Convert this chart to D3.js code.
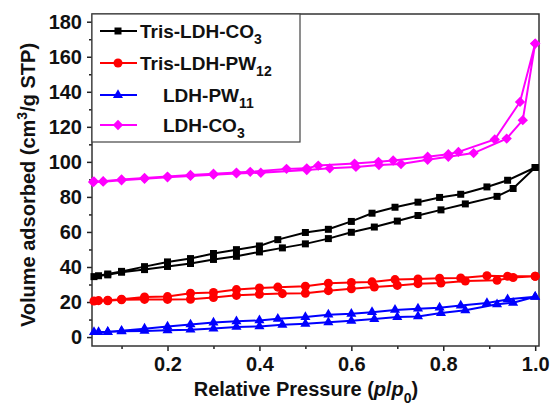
<!DOCTYPE html>
<html>
<head>
<meta charset="utf-8">
<script src="https://cdn.jsdelivr.net/npm/d3@7"></script>
<style>
  body { margin: 0; background: #fff; }
  svg { display: block; font-family: "Liberation Sans", Arial, sans-serif; font-weight: bold; }
</style>
</head>
<body>
<div id="chart"></div>
<script>
// Tris-LDH-CO3, Tris-LDH-PW12, LDH-PW11 share the same pressure steps
const pAds = [0.04, 0.07, 0.10, 0.15, 0.20, 0.25, 0.30, 0.35, 0.40, 0.45, 0.50, 0.55, 0.60, 0.65, 0.70, 0.745, 0.795, 0.848, 0.917, 0.952, 1.0];
const pDes = [1.0, 0.94, 0.895, 0.838, 0.792, 0.745, 0.695, 0.645, 0.60, 0.55, 0.50, 0.44, 0.40, 0.35, 0.30, 0.25, 0.20, 0.15, 0.10, 0.07, 0.05];

const trisCO3Ads = [34.5, 35.5, 37.0, 38.5, 40.3, 42.0, 44.3, 46.1, 48.6, 50.9, 53.2, 56.2, 59.8, 62.8, 66.2, 69.4, 72.6, 76.0, 80.3, 84.8, 96.8];
const trisCO3Des = [96.8, 89.5, 85.7, 81.5, 79.7, 77.0, 74.1, 70.7, 66.0, 61.5, 59.7, 55.6, 52.0, 49.9, 47.7, 44.8, 42.9, 40.2, 37.5, 36.0, 35.0];

const trisPW12Ads = [20.6, 20.7, 21.3, 21.5, 21.5, 21.6, 22.6, 23.8, 24.4, 24.8, 25.0, 26.5, 27.6, 28.6, 29.5, 30.5, 30.8, 32.0, 32.4, 34.0, 34.7];
const trisPW12Des = [34.7, 34.7, 35.0, 33.7, 33.6, 33.2, 32.8, 31.5, 31.2, 30.7, 29.0, 28.5, 28.0, 27.1, 25.5, 25.0, 23.1, 22.9, 21.6, 21.0, 20.8];

const pw11Ads = [2.8, 2.9, 3.3, 3.5, 3.9, 4.2, 4.9, 5.8, 6.1, 7.0, 7.6, 8.4, 9.3, 10.3, 11.4, 11.8, 13.7, 15.3, 18.7, 19.6, 23.0];
const pw11Des = [23.0, 21.5, 19.4, 18.0, 16.8, 16.2, 15.5, 14.2, 13.3, 12.8, 11.4, 10.4, 9.5, 9.0, 8.3, 7.2, 6.0, 4.8, 3.6, 3.0, 2.9];

// LDH-CO3 was measured at its own pressure steps
const pAdsCO3 = [0.038, 0.06, 0.10, 0.15, 0.20, 0.25, 0.30, 0.35, 0.403, 0.503, 0.553, 0.61, 0.66, 0.708, 0.766, 0.811, 0.866, 0.938, 0.973, 1.0];
const co3Ads = [88.5, 88.7, 89.5, 90.3, 91.2, 92.0, 92.7, 93.4, 93.8, 95.3, 96.3, 97.1, 98.2, 98.8, 101.2, 102.9, 105.0, 113.3, 123.8, 167.5];
const pDesCO3 = [1.0, 0.967, 0.912, 0.833, 0.811, 0.766, 0.691, 0.659, 0.607, 0.528, 0.503, 0.459, 0.38, 0.35, 0.30, 0.25, 0.20, 0.15, 0.10, 0.06, 0.04];
const co3Des = [167.5, 134.2, 112.8, 105.7, 104.4, 102.9, 100.8, 100.0, 99.0, 97.9, 96.3, 96.0, 94.3, 93.9, 93.2, 92.5, 91.6, 90.8, 90.0, 89.0, 88.8];

const xMajor = [0.2, 0.4, 0.6, 0.8, 1.0];
const xMinor = [0.1, 0.3, 0.5, 0.7, 0.9];
const yMajor = [0, 20, 40, 60, 80, 100, 120, 140, 160, 180];
const yMinor = [10, 30, 50, 70, 90, 110, 130, 150, 170];

const zip = (ps, vs) => ps.map((p, i) => ({p: p, v: vs[i]}));

const series = [
  {name: "Tris-LDH-CO", sub: "3", color: "#000000", symbol: d3.symbolSquare, size: 49, indent: 0,
   points: zip(pAds, trisCO3Ads).concat(zip(pDes, trisCO3Des))},
  {name: "Tris-LDH-PW", sub: "12", color: "#ff0000", symbol: d3.symbolCircle, size: 64, indent: 0,
   points: zip(pAds, trisPW12Ads).concat(zip(pDes, trisPW12Des))},
  {name: "LDH-PW", sub: "11", color: "#0000ff", symbol: d3.symbolTriangle, size: 44, indent: 23,
   points: zip(pAds, pw11Ads).concat(zip(pDes, pw11Des))},
  {name: "LDH-CO", sub: "3", color: "#ff00ff", symbol: d3.symbolDiamond2, size: 68, indent: 23,
   points: zip(pAdsCO3, co3Ads).concat(zip(pDesCO3, co3Des))}
];

let W = 550, H = 407;
let margin = {top: 14, right: 11, bottom: 61, left: 92};
let width = W - margin.left - margin.right;
let height = H - margin.top - margin.bottom;

let svg = d3.select("#chart")
  .append("svg")
    .attr("width", W)
    .attr("height", H)
  .append("g")
    .attr("transform", "translate(" + margin.left + "," + margin.top + ")");

let x = d3.scaleLinear().domain([0.0357, 1.0083]).range([0, width]);
let y = d3.scaleLinear().domain([-5.1, 184.4]).range([height, 0]);

// axes
let xAxis = svg.append("g")
  .attr("transform", "translate(0," + height + ")")
  .call(d3.axisBottom(x).tickValues(xMajor).tickFormat(d3.format(".1f")).tickSize(5).tickPadding(6));
svg.append("g")
  .attr("transform", "translate(0," + height + ")")
  .call(d3.axisBottom(x).tickValues(xMinor).tickFormat("").tickSize(3));

let yAxis = svg.append("g")
  .call(d3.axisLeft(y).tickValues(yMajor).tickSize(5).tickPadding(5));
svg.append("g")
  .call(d3.axisLeft(y).tickValues(yMinor).tickFormat("").tickSize(3));

svg.selectAll(".domain").remove();
svg.selectAll(".tick line").attr("stroke", "#222").attr("stroke-width", 1.5);
svg.selectAll(".tick text")
  .attr("fill", "#111")
  .style("font-size", "20px")
  .style("font-weight", "bold")
  .style("font-family", "'Liberation Sans', Arial, sans-serif");

// frame
svg.append("rect")
  .attr("width", width)
  .attr("height", height)
  .attr("fill", "none")
  .attr("stroke", "#333")
  .attr("stroke-width", 1.5);

// curves
let line = d3.line()
  .x(d => x(d.p))
  .y(d => y(d.v));

let groups = svg.selectAll(".series")
  .data(series)
  .enter().append("g")
    .attr("class", "series");

groups.append("path")
  .attr("d", d => line(d.points))
  .attr("fill", "none")
  .attr("stroke", d => d.color)
  .attr("stroke-width", 2);

groups.each(function(s) {
  d3.select(this).selectAll("path.mark")
    .data(s.points)
    .enter().append("path")
      .attr("class", "mark")
      .attr("transform", d => "translate(" + x(d.p) + "," + y(d.v) + ")")
      .attr("d", d3.symbol().type(s.symbol).size(s.size))
      .attr("fill", s.color);
});

// legend
let legend = svg.append("g");
legend.append("rect")
  .attr("x", 0)
  .attr("y", 0)
  .attr("width", 208)
  .attr("height", 128)
  .attr("fill", "#fff")
  .attr("stroke", "#444")
  .attr("stroke-width", 1.2);

let rows = [17, 49, 81, 111];
let item = legend.selectAll(".item")
  .data(series)
  .enter().append("g")
    .attr("transform", (d, i) => "translate(0," + rows[i] + ")");

item.append("line")
  .attr("x1", 8).attr("x2", 45)
  .attr("stroke", d => d.color)
  .attr("stroke-width", 2);
item.append("path")
  .attr("transform", "translate(26,0)")
  .attr("d", d => d3.symbol().type(d.symbol).size(d.size)())
  .attr("fill", d => d.color);

let label = item.append("text")
  .attr("x", d => 48 + d.indent)
  .attr("y", 6.5)
  .attr("fill", "#111")
  .style("font-size", "19px");
label.append("tspan").text(d => d.name);
label.append("tspan")
  .attr("dy", 6)
  .style("font-size", "14px")
  .text(d => d.sub);

// axis titles
let xt = svg.append("text")
  .attr("x", 306 - margin.left)
  .attr("y", 396 - margin.top)
  .attr("text-anchor", "middle")
  .attr("fill", "#111")
  .style("font-size", "20px");
xt.append("tspan").text("Relative Pressure (");
xt.append("tspan").style("font-style", "italic").text("p");
xt.append("tspan").text("/");
xt.append("tspan").style("font-style", "italic").text("p");
xt.append("tspan").attr("dy", 7).style("font-size", "14px").text("0");
xt.append("tspan").attr("dy", -7).text(")");

let yt = svg.append("text")
  .attr("transform", "translate(" + (35 - margin.left) + "," + (185 - margin.top) + ") rotate(-90)")
  .attr("text-anchor", "middle")
  .attr("fill", "#111")
  .style("font-size", "20px");
yt.append("tspan").text("Volume adsorbed (cm");
yt.append("tspan").attr("dy", -8).style("font-size", "14px").text("3");
yt.append("tspan").attr("dy", 8).text("/g STP)");
</script>
</body>
</html>
